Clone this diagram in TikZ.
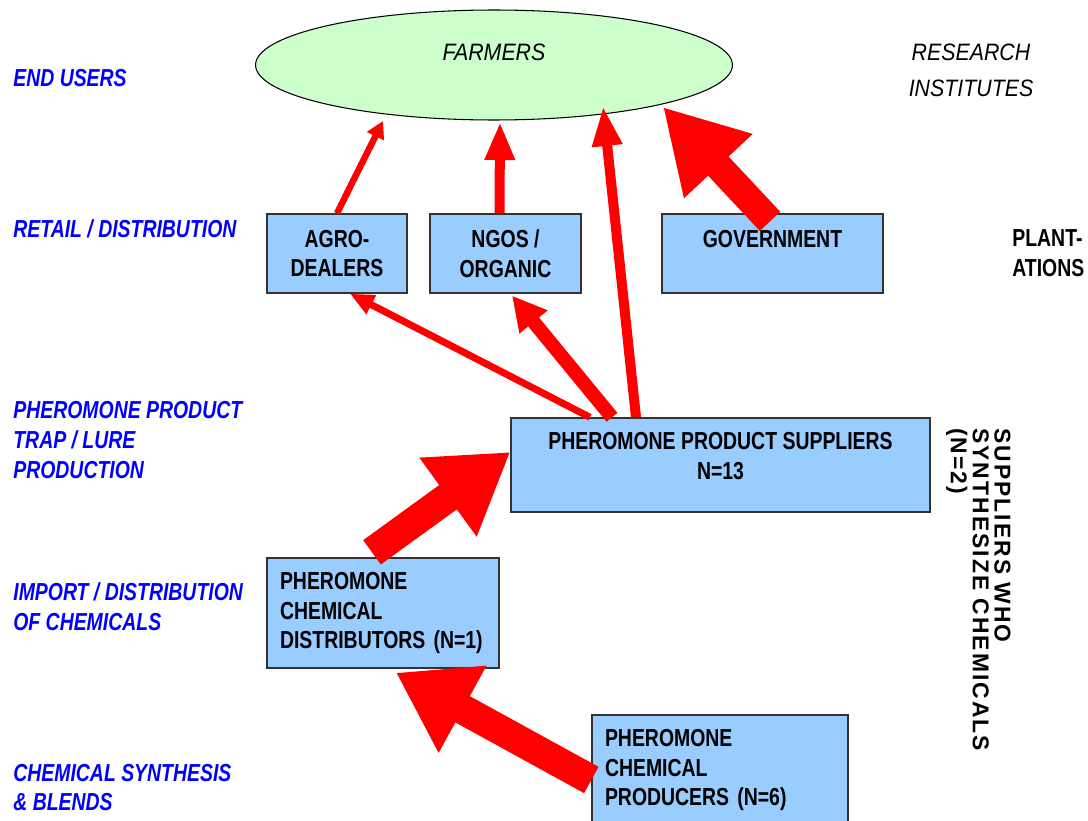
\documentclass[tikz,border=0pt]{standalone}
\usepackage{fontspec}
\setmainfont{Liberation Sans}
\newfontfamily\condfont{Liberation Sans}[FakeStretch=0.79]
\newfontfamily\itfont{Liberation Sans}[FakeStretch=0.9]
\newfontfamily\spacedfont{Liberation Sans}[LetterSpace=9]
\usetikzlibrary{arrows.meta,shapes.geometric,calc}
\definecolor{boxblue}{HTML}{99CCFF}
\definecolor{farmgreen}{HTML}{CCFFCC}
\definecolor{stageblue}{HTML}{0000FF}
\definecolor{flowred}{HTML}{FF0000}

\begin{document}
\begin{tikzpicture}[
  x=0.02cm, y=-0.02cm,
  actor/.style={rectangle, draw=black!80, line width=0.8pt, fill=boxblue, inner sep=0pt, align=center, font=\condfont\bfseries\fontsize{14}{17}\selectfont},
  stage/.style={anchor=west, align=left, inner sep=0pt, text=stageblue, font=\condfont\bfseries\itshape\fontsize{14}{17}\selectfont},
  flow/.style n args={3}{draw=flowred, line width=#1, -{Triangle[length=#2, width=#3]}}
]
  \useasboundingbox (0,0) rectangle (1088,821);

  % value chain levels
  \node[stage] (endusers) at (13,78) {END USERS};
  \node[stage] (retail) at (13,229) {RETAIL / DISTRIBUTION};
  \node[stage] (trap) at (13,440) {PHEROMONE PRODUCT\\TRAP / LURE\\PRODUCTION};
  \node[stage] (import) at (13,607) {IMPORT / DISTRIBUTION\\OF CHEMICALS};
  \node[stage] (synth) at (13,787.5) {CHEMICAL SYNTHESIS\\\& BLENDS};

  % actors
  \node[ellipse, draw, line width=0.6pt, fill=farmgreen, minimum width=9.54cm, minimum height=2.2cm, inner sep=0pt, text depth=0.52cm, font=\itfont\itshape\fontsize{13.5}{17}\selectfont] (farmers) at (494,65) {FARMERS};
  \node[actor, minimum width=2.8cm, minimum height=1.58cm] (agro) at (337,253.5) {AGRO-\\DEALERS};
  \node[actor, minimum width=3.02cm, minimum height=1.58cm] (ngo) at (505.5,253.5) {NGOS /\\ORGANIC};
  \node[actor, minimum width=4.42cm, minimum height=1.58cm, text depth=0.58cm] (gov) at (772.5,253.5) {GOVERNMENT};
  \node[actor, minimum width=8.38cm, minimum height=1.88cm, text depth=0.36cm] (supp) at (720.5,465) {PHEROMONE PRODUCT SUPPLIERS\\N=13};
  \node[actor, align=left, text width=4.12cm, inner xsep=0.26cm, minimum height=2.2cm] (dist) at (383,613) {PHEROMONE\\CHEMICAL\\DISTRIBUTORS (N=1)};
  \node[actor, align=left, text width=4.6cm, inner xsep=0.26cm, minimum height=2.2cm] (prod) at (720,770) {PHEROMONE\\CHEMICAL\\PRODUCERS (N=6)};

  % side notes
  \node[inner sep=0pt, align=center, font=\itfont\itshape\fontsize{13.5}{20.5}\selectfont] (research) at (971,70) {RESEARCH\\INSTITUTES};
  \node[anchor=west, inner sep=0pt, align=left, font=\condfont\bfseries\fontsize{14}{17}\selectfont] (plant) at (1012,253.5) {PLANT-\\ATIONS};
  \node[rotate=-90, anchor=north west, inner sep=0pt, align=left, font=\spacedfont\bfseries\fontsize{13}{12.5}\selectfont] (synthnote) at (1011,428) {SUPPLIERS WHO\\SYNTHESIZE CHEMICALS\\(N=2)};

  % flows
  \draw[flow={0.13cm}{0.34cm}{0.36cm}] (agro.north) -- ($(farmers.center)+(-111,56)$);
  \draw[flow={0.2cm}{0.76cm}{0.56cm}] ($(ngo.north)+(-6,0)$) -- ($(farmers.center)+(6,57)$);
  \draw[flow={0.2cm}{0.8cm}{0.56cm}] ($(supp.north)+(-84.5,0)$) -- ($(farmers.center)+(109,41)$);
  \draw[flow={0.56cm}{1.62cm}{1.76cm}] ($(gov.north)+(-2.5,8)$) -- ($(farmers.center)+(169,42)$);
  \draw[flow={0.14cm}{0.48cm}{0.4cm}] ($(supp.north)+(-130.5,0)$) -- ($(agro.south)+(13,0)$);
  \draw[flow={0.28cm}{0.68cm}{0.68cm}] ($(supp.north)+(-108.5,0)$) -- ($(ngo.south)+(6.5,2)$);
  \draw[flow={0.6cm}{1.54cm}{1.84cm}] ($(dist.north)+(-11,-5)$) -- ($(supp.west)+(0,-13)$);
  \draw[flow={0.6cm}{1.52cm}{1.88cm}] ($(prod.west)+(0,10)$) -- ($(dist.south)+(13,4)$);
\end{tikzpicture}
\end{document}
